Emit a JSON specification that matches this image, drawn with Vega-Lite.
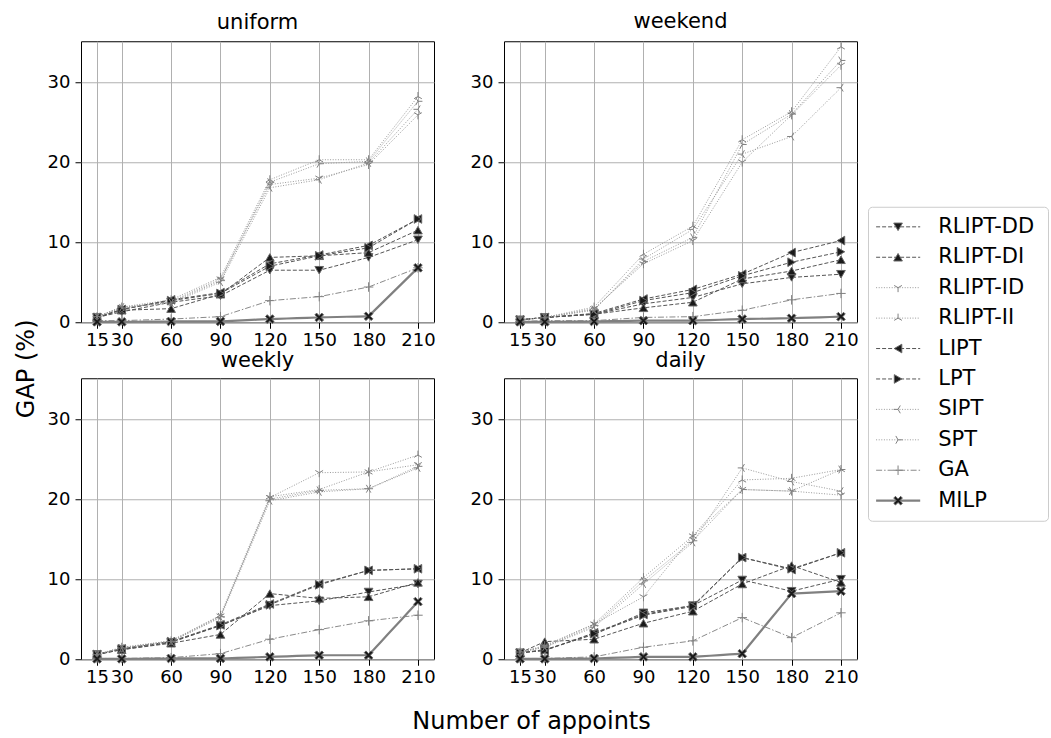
{
  "$schema": "https://vega.github.io/schema/vega-lite/v6.json",
  "background": "white",
  "padding": {"left": 14, "top": 10, "right": 5, "bottom": 0},
  "config": {
    "font": "DejaVu Sans",
    "view": {"stroke": "#000000", "strokeWidth": 1},
    "axis": {"labelFont": "DejaVu Sans", "labelFontSize": 18, "labelColor": "#000000", "tickColor": "#000000", "tickSize": 6, "tickWidth": 1, "domain": false, "grid": true, "gridColor": "#b0b0b0", "gridWidth": 1, "labelOverlap": false, "labelFlush": false, "labelPadding": 5},
    "axisX": {"labelPadding": 3},
    "title": {"font": "DejaVu Sans", "fontSize": 21, "fontWeight": "normal", "color": "#000000", "offset": 8}
  },
  "data": {"values": [
    {"panel":"uniform","series":"RLIPT-DD","n":15,"gap":0.6},{"panel":"uniform","series":"RLIPT-DD","n":30,"gap":1.3},{"panel":"uniform","series":"RLIPT-DD","n":60,"gap":2.5},{"panel":"uniform","series":"RLIPT-DD","n":90,"gap":3.3},{"panel":"uniform","series":"RLIPT-DD","n":120,"gap":6.5},{"panel":"uniform","series":"RLIPT-DD","n":150,"gap":6.5},{"panel":"uniform","series":"RLIPT-DD","n":180,"gap":8.1},{"panel":"uniform","series":"RLIPT-DD","n":210,"gap":10.3},
    {"panel":"uniform","series":"RLIPT-DI","n":15,"gap":0.6},{"panel":"uniform","series":"RLIPT-DI","n":30,"gap":1.5},{"panel":"uniform","series":"RLIPT-DI","n":60,"gap":1.7},{"panel":"uniform","series":"RLIPT-DI","n":90,"gap":3.5},{"panel":"uniform","series":"RLIPT-DI","n":120,"gap":8.1},{"panel":"uniform","series":"RLIPT-DI","n":150,"gap":8.3},{"panel":"uniform","series":"RLIPT-DI","n":180,"gap":8.7},{"panel":"uniform","series":"RLIPT-DI","n":210,"gap":11.5},
    {"panel":"uniform","series":"RLIPT-ID","n":15,"gap":0.7},{"panel":"uniform","series":"RLIPT-ID","n":30,"gap":1.8},{"panel":"uniform","series":"RLIPT-ID","n":60,"gap":2.6},{"panel":"uniform","series":"RLIPT-ID","n":90,"gap":5.4},{"panel":"uniform","series":"RLIPT-ID","n":120,"gap":17.2},{"panel":"uniform","series":"RLIPT-ID","n":150,"gap":18.0},{"panel":"uniform","series":"RLIPT-ID","n":180,"gap":19.7},{"panel":"uniform","series":"RLIPT-ID","n":210,"gap":25.9},
    {"panel":"uniform","series":"RLIPT-II","n":15,"gap":0.7},{"panel":"uniform","series":"RLIPT-II","n":30,"gap":1.9},{"panel":"uniform","series":"RLIPT-II","n":60,"gap":2.8},{"panel":"uniform","series":"RLIPT-II","n":90,"gap":5.6},{"panel":"uniform","series":"RLIPT-II","n":120,"gap":17.8},{"panel":"uniform","series":"RLIPT-II","n":150,"gap":20.3},{"panel":"uniform","series":"RLIPT-II","n":180,"gap":20.3},{"panel":"uniform","series":"RLIPT-II","n":210,"gap":28.2},
    {"panel":"uniform","series":"LIPT","n":15,"gap":0.6},{"panel":"uniform","series":"LIPT","n":30,"gap":1.6},{"panel":"uniform","series":"LIPT","n":60,"gap":2.8},{"panel":"uniform","series":"LIPT","n":90,"gap":3.7},{"panel":"uniform","series":"LIPT","n":120,"gap":7.3},{"panel":"uniform","series":"LIPT","n":150,"gap":8.4},{"panel":"uniform","series":"LIPT","n":180,"gap":9.6},{"panel":"uniform","series":"LIPT","n":210,"gap":12.9},
    {"panel":"uniform","series":"LPT","n":15,"gap":0.6},{"panel":"uniform","series":"LPT","n":30,"gap":1.6},{"panel":"uniform","series":"LPT","n":60,"gap":2.7},{"panel":"uniform","series":"LPT","n":90,"gap":3.6},{"panel":"uniform","series":"LPT","n":120,"gap":7.0},{"panel":"uniform","series":"LPT","n":150,"gap":8.3},{"panel":"uniform","series":"LPT","n":180,"gap":9.3},{"panel":"uniform","series":"LPT","n":210,"gap":12.9},
    {"panel":"uniform","series":"SIPT","n":15,"gap":0.7},{"panel":"uniform","series":"SIPT","n":30,"gap":1.9},{"panel":"uniform","series":"SIPT","n":60,"gap":2.4},{"panel":"uniform","series":"SIPT","n":90,"gap":5.0},{"panel":"uniform","series":"SIPT","n":120,"gap":16.8},{"panel":"uniform","series":"SIPT","n":150,"gap":17.8},{"panel":"uniform","series":"SIPT","n":180,"gap":19.9},{"panel":"uniform","series":"SIPT","n":210,"gap":26.6},
    {"panel":"uniform","series":"SPT","n":15,"gap":0.7},{"panel":"uniform","series":"SPT","n":30,"gap":1.8},{"panel":"uniform","series":"SPT","n":60,"gap":2.5},{"panel":"uniform","series":"SPT","n":90,"gap":5.2},{"panel":"uniform","series":"SPT","n":120,"gap":17.5},{"panel":"uniform","series":"SPT","n":150,"gap":19.8},{"panel":"uniform","series":"SPT","n":180,"gap":20.1},{"panel":"uniform","series":"SPT","n":210,"gap":27.6},
    {"panel":"uniform","series":"GA","n":15,"gap":0.2},{"panel":"uniform","series":"GA","n":30,"gap":0.2},{"panel":"uniform","series":"GA","n":60,"gap":0.4},{"panel":"uniform","series":"GA","n":90,"gap":0.7},{"panel":"uniform","series":"GA","n":120,"gap":2.7},{"panel":"uniform","series":"GA","n":150,"gap":3.2},{"panel":"uniform","series":"GA","n":180,"gap":4.4},{"panel":"uniform","series":"GA","n":210,"gap":6.8},
    {"panel":"uniform","series":"MILP","n":15,"gap":0.05},{"panel":"uniform","series":"MILP","n":30,"gap":0.05},{"panel":"uniform","series":"MILP","n":60,"gap":0.1},{"panel":"uniform","series":"MILP","n":90,"gap":0.1},{"panel":"uniform","series":"MILP","n":120,"gap":0.4},{"panel":"uniform","series":"MILP","n":150,"gap":0.6},{"panel":"uniform","series":"MILP","n":180,"gap":0.75},{"panel":"uniform","series":"MILP","n":210,"gap":6.8},

    {"panel":"weekend","series":"RLIPT-DD","n":15,"gap":0.3},{"panel":"weekend","series":"RLIPT-DD","n":30,"gap":0.6},{"panel":"weekend","series":"RLIPT-DD","n":60,"gap":1.0},{"panel":"weekend","series":"RLIPT-DD","n":90,"gap":2.3},{"panel":"weekend","series":"RLIPT-DD","n":120,"gap":3.1},{"panel":"weekend","series":"RLIPT-DD","n":150,"gap":4.8},{"panel":"weekend","series":"RLIPT-DD","n":180,"gap":5.6},{"panel":"weekend","series":"RLIPT-DD","n":210,"gap":6.0},
    {"panel":"weekend","series":"RLIPT-DI","n":15,"gap":0.3},{"panel":"weekend","series":"RLIPT-DI","n":30,"gap":0.6},{"panel":"weekend","series":"RLIPT-DI","n":60,"gap":1.0},{"panel":"weekend","series":"RLIPT-DI","n":90,"gap":1.8},{"panel":"weekend","series":"RLIPT-DI","n":120,"gap":2.5},{"panel":"weekend","series":"RLIPT-DI","n":150,"gap":5.4},{"panel":"weekend","series":"RLIPT-DI","n":180,"gap":6.4},{"panel":"weekend","series":"RLIPT-DI","n":210,"gap":7.8},
    {"panel":"weekend","series":"RLIPT-ID","n":15,"gap":0.3},{"panel":"weekend","series":"RLIPT-ID","n":30,"gap":0.6},{"panel":"weekend","series":"RLIPT-ID","n":60,"gap":1.7},{"panel":"weekend","series":"RLIPT-ID","n":90,"gap":7.3},{"panel":"weekend","series":"RLIPT-ID","n":120,"gap":10.2},{"panel":"weekend","series":"RLIPT-ID","n":150,"gap":20.0},{"panel":"weekend","series":"RLIPT-ID","n":180,"gap":25.9},{"panel":"weekend","series":"RLIPT-ID","n":210,"gap":32.1},
    {"panel":"weekend","series":"RLIPT-II","n":15,"gap":0.3},{"panel":"weekend","series":"RLIPT-II","n":30,"gap":0.6},{"panel":"weekend","series":"RLIPT-II","n":60,"gap":1.9},{"panel":"weekend","series":"RLIPT-II","n":90,"gap":8.5},{"panel":"weekend","series":"RLIPT-II","n":120,"gap":12.0},{"panel":"weekend","series":"RLIPT-II","n":150,"gap":22.8},{"panel":"weekend","series":"RLIPT-II","n":180,"gap":26.3},{"panel":"weekend","series":"RLIPT-II","n":210,"gap":34.4},
    {"panel":"weekend","series":"LIPT","n":15,"gap":0.3},{"panel":"weekend","series":"LIPT","n":30,"gap":0.6},{"panel":"weekend","series":"LIPT","n":60,"gap":1.1},{"panel":"weekend","series":"LIPT","n":90,"gap":2.9},{"panel":"weekend","series":"LIPT","n":120,"gap":4.1},{"panel":"weekend","series":"LIPT","n":150,"gap":6.0},{"panel":"weekend","series":"LIPT","n":180,"gap":8.7},{"panel":"weekend","series":"LIPT","n":210,"gap":10.2},
    {"panel":"weekend","series":"LPT","n":15,"gap":0.3},{"panel":"weekend","series":"LPT","n":30,"gap":0.6},{"panel":"weekend","series":"LPT","n":60,"gap":1.0},{"panel":"weekend","series":"LPT","n":90,"gap":2.7},{"panel":"weekend","series":"LPT","n":120,"gap":3.7},{"panel":"weekend","series":"LPT","n":150,"gap":5.8},{"panel":"weekend","series":"LPT","n":180,"gap":7.5},{"panel":"weekend","series":"LPT","n":210,"gap":8.8},
    {"panel":"weekend","series":"SIPT","n":15,"gap":0.3},{"panel":"weekend","series":"SIPT","n":30,"gap":0.6},{"panel":"weekend","series":"SIPT","n":60,"gap":1.5},{"panel":"weekend","series":"SIPT","n":90,"gap":7.9},{"panel":"weekend","series":"SIPT","n":120,"gap":11.6},{"panel":"weekend","series":"SIPT","n":150,"gap":21.0},{"panel":"weekend","series":"SIPT","n":180,"gap":23.2},{"panel":"weekend","series":"SIPT","n":210,"gap":29.3},
    {"panel":"weekend","series":"SPT","n":15,"gap":0.3},{"panel":"weekend","series":"SPT","n":30,"gap":0.6},{"panel":"weekend","series":"SPT","n":60,"gap":1.6},{"panel":"weekend","series":"SPT","n":90,"gap":7.6},{"panel":"weekend","series":"SPT","n":120,"gap":10.6},{"panel":"weekend","series":"SPT","n":150,"gap":22.2},{"panel":"weekend","series":"SPT","n":180,"gap":26.0},{"panel":"weekend","series":"SPT","n":210,"gap":32.7},
    {"panel":"weekend","series":"GA","n":15,"gap":0.1},{"panel":"weekend","series":"GA","n":30,"gap":0.2},{"panel":"weekend","series":"GA","n":60,"gap":0.2},{"panel":"weekend","series":"GA","n":90,"gap":0.6},{"panel":"weekend","series":"GA","n":120,"gap":0.7},{"panel":"weekend","series":"GA","n":150,"gap":1.5},{"panel":"weekend","series":"GA","n":180,"gap":2.8},{"panel":"weekend","series":"GA","n":210,"gap":3.6},
    {"panel":"weekend","series":"MILP","n":15,"gap":0.05},{"panel":"weekend","series":"MILP","n":30,"gap":0.05},{"panel":"weekend","series":"MILP","n":60,"gap":0.1},{"panel":"weekend","series":"MILP","n":90,"gap":0.2},{"panel":"weekend","series":"MILP","n":120,"gap":0.2},{"panel":"weekend","series":"MILP","n":150,"gap":0.4},{"panel":"weekend","series":"MILP","n":180,"gap":0.5},{"panel":"weekend","series":"MILP","n":210,"gap":0.7},

    {"panel":"weekly","series":"RLIPT-DD","n":15,"gap":0.6},{"panel":"weekly","series":"RLIPT-DD","n":30,"gap":1.2},{"panel":"weekly","series":"RLIPT-DD","n":60,"gap":2.1},{"panel":"weekly","series":"RLIPT-DD","n":90,"gap":4.2},{"panel":"weekly","series":"RLIPT-DD","n":120,"gap":6.7},{"panel":"weekly","series":"RLIPT-DD","n":150,"gap":7.3},{"panel":"weekly","series":"RLIPT-DD","n":180,"gap":8.4},{"panel":"weekly","series":"RLIPT-DD","n":210,"gap":9.4},
    {"panel":"weekly","series":"RLIPT-DI","n":15,"gap":0.6},{"panel":"weekly","series":"RLIPT-DI","n":30,"gap":1.2},{"panel":"weekly","series":"RLIPT-DI","n":60,"gap":2.0},{"panel":"weekly","series":"RLIPT-DI","n":90,"gap":3.1},{"panel":"weekly","series":"RLIPT-DI","n":120,"gap":8.2},{"panel":"weekly","series":"RLIPT-DI","n":150,"gap":7.6},{"panel":"weekly","series":"RLIPT-DI","n":180,"gap":7.8},{"panel":"weekly","series":"RLIPT-DI","n":210,"gap":9.6},
    {"panel":"weekly","series":"RLIPT-ID","n":15,"gap":0.6},{"panel":"weekly","series":"RLIPT-ID","n":30,"gap":1.4},{"panel":"weekly","series":"RLIPT-ID","n":60,"gap":2.3},{"panel":"weekly","series":"RLIPT-ID","n":90,"gap":5.4},{"panel":"weekly","series":"RLIPT-ID","n":120,"gap":20.2},{"panel":"weekly","series":"RLIPT-ID","n":150,"gap":23.3},{"panel":"weekly","series":"RLIPT-ID","n":180,"gap":23.4},{"panel":"weekly","series":"RLIPT-ID","n":210,"gap":24.3},
    {"panel":"weekly","series":"RLIPT-II","n":15,"gap":0.6},{"panel":"weekly","series":"RLIPT-II","n":30,"gap":1.5},{"panel":"weekly","series":"RLIPT-II","n":60,"gap":2.3},{"panel":"weekly","series":"RLIPT-II","n":90,"gap":5.5},{"panel":"weekly","series":"RLIPT-II","n":120,"gap":20.3},{"panel":"weekly","series":"RLIPT-II","n":150,"gap":21.2},{"panel":"weekly","series":"RLIPT-II","n":180,"gap":23.4},{"panel":"weekly","series":"RLIPT-II","n":210,"gap":25.5},
    {"panel":"weekly","series":"LIPT","n":15,"gap":0.6},{"panel":"weekly","series":"LIPT","n":30,"gap":1.3},{"panel":"weekly","series":"LIPT","n":60,"gap":2.2},{"panel":"weekly","series":"LIPT","n":90,"gap":4.3},{"panel":"weekly","series":"LIPT","n":120,"gap":6.9},{"panel":"weekly","series":"LIPT","n":150,"gap":9.4},{"panel":"weekly","series":"LIPT","n":180,"gap":11.1},{"panel":"weekly","series":"LIPT","n":210,"gap":11.3},
    {"panel":"weekly","series":"LPT","n":15,"gap":0.6},{"panel":"weekly","series":"LPT","n":30,"gap":1.3},{"panel":"weekly","series":"LPT","n":60,"gap":2.2},{"panel":"weekly","series":"LPT","n":90,"gap":4.2},{"panel":"weekly","series":"LPT","n":120,"gap":6.8},{"panel":"weekly","series":"LPT","n":150,"gap":9.3},{"panel":"weekly","series":"LPT","n":180,"gap":11.1},{"panel":"weekly","series":"LPT","n":210,"gap":11.3},
    {"panel":"weekly","series":"SIPT","n":15,"gap":0.6},{"panel":"weekly","series":"SIPT","n":30,"gap":1.4},{"panel":"weekly","series":"SIPT","n":60,"gap":2.2},{"panel":"weekly","series":"SIPT","n":90,"gap":5.2},{"panel":"weekly","series":"SIPT","n":120,"gap":19.8},{"panel":"weekly","series":"SIPT","n":150,"gap":20.9},{"panel":"weekly","series":"SIPT","n":180,"gap":21.3},{"panel":"weekly","series":"SIPT","n":210,"gap":23.9},
    {"panel":"weekly","series":"SPT","n":15,"gap":0.6},{"panel":"weekly","series":"SPT","n":30,"gap":1.4},{"panel":"weekly","series":"SPT","n":60,"gap":2.2},{"panel":"weekly","series":"SPT","n":90,"gap":5.3},{"panel":"weekly","series":"SPT","n":120,"gap":20.0},{"panel":"weekly","series":"SPT","n":150,"gap":21.1},{"panel":"weekly","series":"SPT","n":180,"gap":21.3},{"panel":"weekly","series":"SPT","n":210,"gap":24.1},
    {"panel":"weekly","series":"GA","n":15,"gap":0.1},{"panel":"weekly","series":"GA","n":30,"gap":0.1},{"panel":"weekly","series":"GA","n":60,"gap":0.2},{"panel":"weekly","series":"GA","n":90,"gap":0.7},{"panel":"weekly","series":"GA","n":120,"gap":2.5},{"panel":"weekly","series":"GA","n":150,"gap":3.7},{"panel":"weekly","series":"GA","n":180,"gap":4.8},{"panel":"weekly","series":"GA","n":210,"gap":5.5},
    {"panel":"weekly","series":"MILP","n":15,"gap":0.05},{"panel":"weekly","series":"MILP","n":30,"gap":0.05},{"panel":"weekly","series":"MILP","n":60,"gap":0.1},{"panel":"weekly","series":"MILP","n":90,"gap":0.1},{"panel":"weekly","series":"MILP","n":120,"gap":0.3},{"panel":"weekly","series":"MILP","n":150,"gap":0.5},{"panel":"weekly","series":"MILP","n":180,"gap":0.5},{"panel":"weekly","series":"MILP","n":210,"gap":7.2},

    {"panel":"daily","series":"RLIPT-DD","n":15,"gap":0.8},{"panel":"daily","series":"RLIPT-DD","n":30,"gap":1.2},{"panel":"daily","series":"RLIPT-DD","n":60,"gap":3.1},{"panel":"daily","series":"RLIPT-DD","n":90,"gap":5.8},{"panel":"daily","series":"RLIPT-DD","n":120,"gap":6.7},{"panel":"daily","series":"RLIPT-DD","n":150,"gap":9.9},{"panel":"daily","series":"RLIPT-DD","n":180,"gap":8.5},{"panel":"daily","series":"RLIPT-DD","n":210,"gap":10.0},
    {"panel":"daily","series":"RLIPT-DI","n":15,"gap":0.8},{"panel":"daily","series":"RLIPT-DI","n":30,"gap":2.2},{"panel":"daily","series":"RLIPT-DI","n":60,"gap":2.5},{"panel":"daily","series":"RLIPT-DI","n":90,"gap":4.5},{"panel":"daily","series":"RLIPT-DI","n":120,"gap":6.0},{"panel":"daily","series":"RLIPT-DI","n":150,"gap":9.4},{"panel":"daily","series":"RLIPT-DI","n":180,"gap":11.7},{"panel":"daily","series":"RLIPT-DI","n":210,"gap":9.6},
    {"panel":"daily","series":"RLIPT-ID","n":15,"gap":0.9},{"panel":"daily","series":"RLIPT-ID","n":30,"gap":1.6},{"panel":"daily","series":"RLIPT-ID","n":60,"gap":4.4},{"panel":"daily","series":"RLIPT-ID","n":90,"gap":7.8},{"panel":"daily","series":"RLIPT-ID","n":120,"gap":15.4},{"panel":"daily","series":"RLIPT-ID","n":150,"gap":21.2},{"panel":"daily","series":"RLIPT-ID","n":180,"gap":21.0},{"panel":"daily","series":"RLIPT-ID","n":210,"gap":20.5},
    {"panel":"daily","series":"RLIPT-II","n":15,"gap":0.9},{"panel":"daily","series":"RLIPT-II","n":30,"gap":1.7},{"panel":"daily","series":"RLIPT-II","n":60,"gap":4.4},{"panel":"daily","series":"RLIPT-II","n":90,"gap":10.2},{"panel":"daily","series":"RLIPT-II","n":120,"gap":15.4},{"panel":"daily","series":"RLIPT-II","n":150,"gap":22.4},{"panel":"daily","series":"RLIPT-II","n":180,"gap":22.6},{"panel":"daily","series":"RLIPT-II","n":210,"gap":23.7},
    {"panel":"daily","series":"LIPT","n":15,"gap":0.8},{"panel":"daily","series":"LIPT","n":30,"gap":1.1},{"panel":"daily","series":"LIPT","n":60,"gap":3.3},{"panel":"daily","series":"LIPT","n":90,"gap":5.6},{"panel":"daily","series":"LIPT","n":120,"gap":6.7},{"panel":"daily","series":"LIPT","n":150,"gap":12.7},{"panel":"daily","series":"LIPT","n":180,"gap":11.2},{"panel":"daily","series":"LIPT","n":210,"gap":13.3},
    {"panel":"daily","series":"LPT","n":15,"gap":0.8},{"panel":"daily","series":"LPT","n":30,"gap":1.1},{"panel":"daily","series":"LPT","n":60,"gap":3.2},{"panel":"daily","series":"LPT","n":90,"gap":5.5},{"panel":"daily","series":"LPT","n":120,"gap":6.6},{"panel":"daily","series":"LPT","n":150,"gap":12.7},{"panel":"daily","series":"LPT","n":180,"gap":11.3},{"panel":"daily","series":"LPT","n":210,"gap":13.3},
    {"panel":"daily","series":"SIPT","n":15,"gap":0.9},{"panel":"daily","series":"SIPT","n":30,"gap":1.5},{"panel":"daily","series":"SIPT","n":60,"gap":4.0},{"panel":"daily","series":"SIPT","n":90,"gap":9.4},{"panel":"daily","series":"SIPT","n":120,"gap":14.6},{"panel":"daily","series":"SIPT","n":150,"gap":23.9},{"panel":"daily","series":"SIPT","n":180,"gap":22.2},{"panel":"daily","series":"SIPT","n":210,"gap":21.0},
    {"panel":"daily","series":"SPT","n":15,"gap":0.9},{"panel":"daily","series":"SPT","n":30,"gap":1.5},{"panel":"daily","series":"SPT","n":60,"gap":4.2},{"panel":"daily","series":"SPT","n":90,"gap":9.8},{"panel":"daily","series":"SPT","n":120,"gap":14.8},{"panel":"daily","series":"SPT","n":150,"gap":21.2},{"panel":"daily","series":"SPT","n":180,"gap":21.0},{"panel":"daily","series":"SPT","n":210,"gap":23.7},
    {"panel":"daily","series":"GA","n":15,"gap":0.1},{"panel":"daily","series":"GA","n":30,"gap":0.1},{"panel":"daily","series":"GA","n":60,"gap":0.3},{"panel":"daily","series":"GA","n":90,"gap":1.5},{"panel":"daily","series":"GA","n":120,"gap":2.3},{"panel":"daily","series":"GA","n":150,"gap":5.2},{"panel":"daily","series":"GA","n":180,"gap":2.7},{"panel":"daily","series":"GA","n":210,"gap":5.8},
    {"panel":"daily","series":"MILP","n":15,"gap":0.05},{"panel":"daily","series":"MILP","n":30,"gap":0.05},{"panel":"daily","series":"MILP","n":60,"gap":0.1},{"panel":"daily","series":"MILP","n":90,"gap":0.3},{"panel":"daily","series":"MILP","n":120,"gap":0.3},{"panel":"daily","series":"MILP","n":150,"gap":0.7},{"panel":"daily","series":"MILP","n":180,"gap":8.2},{"panel":"daily","series":"MILP","n":210,"gap":8.5}
  ]},
  "title": {"text": "Number of appoints", "orient": "bottom", "anchor": "middle", "fontSize": 24, "offset": 23},
  "spacing": 8,
  "center": true,
  "hconcat": [
    {
      "columns": 2,
      "spacing": {"row": 56, "column": 70},
      "bounds": "flush",
      "title": {"text": "GAP (%)", "orient": "left", "anchor": "middle", "fontSize": 24, "offset": 8, "dx": -20},
      "concat": [
        {
          "title": "uniform", "width": 353, "height": 281,
          "transform": [{"filter": "datum.panel == 'uniform'"}],
          "encoding": {
            "x": {"field": "n", "type": "quantitative", "scale": {"domain": [5.25, 219.75], "nice": false, "zero": false}, "axis": {"values": [15, 30, 60, 90, 120, 150, 180, 210], "title": null}},
            "y": {"field": "gap", "type": "quantitative", "scale": {"domain": [0, 35.1], "nice": false, "zero": false}, "axis": {"values": [0, 10, 20, 30], "title": null}}
          },
          "layer": [
            {"mark": {"type": "line", "strokeCap": "butt"}, "encoding": {
              "color": {"field": "series", "type": "nominal", "legend": null, "scale": {"domain": ["RLIPT-DD","RLIPT-DI","RLIPT-ID","RLIPT-II","LIPT","LPT","SIPT","SPT","GA","MILP"], "range": ["#555555","#555555","#9a9a9a","#9a9a9a","#555555","#555555","#9a9a9a","#9a9a9a","#8a8a8a","#808080"]}},
              "strokeDash": {"field": "series", "type": "nominal", "legend": null, "scale": {"domain": ["RLIPT-DD","RLIPT-DI","RLIPT-ID","RLIPT-II","LIPT","LPT","SIPT","SPT","GA","MILP"], "range": [[4,2],[4,2],[1,1.6],[1,1.6],[4,2],[4,2],[1,1.6],[1,1.6],[6,2,1.5,2],[10,0]]}},
              "strokeWidth": {"condition": {"test": "datum.series == 'MILP'", "value": 2.2}, "value": 1}
            }},
            {"mark": {"type": "point", "opacity": 1, "strokeWidth": 1}, "encoding": {
              "shape": {"field": "series", "type": "nominal", "legend": null, "scale": {"domain": ["RLIPT-DD","RLIPT-DI","RLIPT-ID","RLIPT-II","LIPT","LPT","SIPT","SPT","GA","MILP"], "range": ["triangle-down","triangle-up","M0,0L0,1M0,0L-0.866,-0.5M0,0L0.866,-0.5","M0,0L0,-1M0,0L-0.866,0.5M0,0L0.866,0.5","triangle-left","triangle-right","M0,0L-1,0M0,0L0.5,-0.866M0,0L0.5,0.866","M0,0L1,0M0,0L-0.5,-0.866M0,0L-0.5,0.866","M-1,0L1,0M0,-1L0,1","M-1,-0.6L-0.6,-1L0,-0.4L0.6,-1L1,-0.6L0.4,0L1,0.6L0.6,1L0,0.4L-0.6,1L-1,0.6L-0.4,0Z"]}},
              "fill": {"field": "series", "type": "nominal", "legend": null, "scale": {"domain": ["RLIPT-DD","RLIPT-DI","RLIPT-ID","RLIPT-II","LIPT","LPT","SIPT","SPT","GA","MILP"], "range": ["#1a1a1a","#1a1a1a","transparent","transparent","#1a1a1a","#1a1a1a","transparent","transparent","transparent","#1a1a1a"]}},
              "stroke": {"field": "series", "type": "nominal", "legend": null, "scale": {"domain": ["RLIPT-DD","RLIPT-DI","RLIPT-ID","RLIPT-II","LIPT","LPT","SIPT","SPT","GA","MILP"], "range": ["#666666","#666666","#808080","#808080","#666666","#666666","#808080","#808080","#808080","#666666"]}},
              "size": {"condition": [{"test": "datum.series == 'GA'", "value": 90}, {"test": "indexof(['RLIPT-ID','RLIPT-II','SIPT','SPT'], datum.series) >= 0", "value": 80}], "value": 75}
            }}
          ]
        },
        {
          "title": "weekend", "width": 353, "height": 281,
          "transform": [{"filter": "datum.panel == 'weekend'"}],
          "encoding": {
            "x": {"field": "n", "type": "quantitative", "scale": {"domain": [5.25, 219.75], "nice": false, "zero": false}, "axis": {"values": [15, 30, 60, 90, 120, 150, 180, 210], "title": null}},
            "y": {"field": "gap", "type": "quantitative", "scale": {"domain": [0, 35.1], "nice": false, "zero": false}, "axis": {"values": [0, 10, 20, 30], "title": null}}
          },
          "layer": [
            {"mark": {"type": "line", "strokeCap": "butt"}, "encoding": {
              "color": {"field": "series", "type": "nominal", "legend": null, "scale": {"domain": ["RLIPT-DD","RLIPT-DI","RLIPT-ID","RLIPT-II","LIPT","LPT","SIPT","SPT","GA","MILP"], "range": ["#555555","#555555","#9a9a9a","#9a9a9a","#555555","#555555","#9a9a9a","#9a9a9a","#8a8a8a","#808080"]}},
              "strokeDash": {"field": "series", "type": "nominal", "legend": null, "scale": {"domain": ["RLIPT-DD","RLIPT-DI","RLIPT-ID","RLIPT-II","LIPT","LPT","SIPT","SPT","GA","MILP"], "range": [[4,2],[4,2],[1,1.6],[1,1.6],[4,2],[4,2],[1,1.6],[1,1.6],[6,2,1.5,2],[10,0]]}},
              "strokeWidth": {"condition": {"test": "datum.series == 'MILP'", "value": 2.2}, "value": 1}
            }},
            {"mark": {"type": "point", "opacity": 1, "strokeWidth": 1}, "encoding": {
              "shape": {"field": "series", "type": "nominal", "legend": null, "scale": {"domain": ["RLIPT-DD","RLIPT-DI","RLIPT-ID","RLIPT-II","LIPT","LPT","SIPT","SPT","GA","MILP"], "range": ["triangle-down","triangle-up","M0,0L0,1M0,0L-0.866,-0.5M0,0L0.866,-0.5","M0,0L0,-1M0,0L-0.866,0.5M0,0L0.866,0.5","triangle-left","triangle-right","M0,0L-1,0M0,0L0.5,-0.866M0,0L0.5,0.866","M0,0L1,0M0,0L-0.5,-0.866M0,0L-0.5,0.866","M-1,0L1,0M0,-1L0,1","M-1,-0.6L-0.6,-1L0,-0.4L0.6,-1L1,-0.6L0.4,0L1,0.6L0.6,1L0,0.4L-0.6,1L-1,0.6L-0.4,0Z"]}},
              "fill": {"field": "series", "type": "nominal", "legend": null, "scale": {"domain": ["RLIPT-DD","RLIPT-DI","RLIPT-ID","RLIPT-II","LIPT","LPT","SIPT","SPT","GA","MILP"], "range": ["#1a1a1a","#1a1a1a","transparent","transparent","#1a1a1a","#1a1a1a","transparent","transparent","transparent","#1a1a1a"]}},
              "stroke": {"field": "series", "type": "nominal", "legend": null, "scale": {"domain": ["RLIPT-DD","RLIPT-DI","RLIPT-ID","RLIPT-II","LIPT","LPT","SIPT","SPT","GA","MILP"], "range": ["#666666","#666666","#808080","#808080","#666666","#666666","#808080","#808080","#808080","#666666"]}},
              "size": {"condition": [{"test": "datum.series == 'GA'", "value": 90}, {"test": "indexof(['RLIPT-ID','RLIPT-II','SIPT','SPT'], datum.series) >= 0", "value": 80}], "value": 75}
            }}
          ]
        },
        {
          "title": {"text": "weekly", "offset": 7}, "width": 353, "height": 281,
          "transform": [{"filter": "datum.panel == 'weekly'"}],
          "encoding": {
            "x": {"field": "n", "type": "quantitative", "scale": {"domain": [5.25, 219.75], "nice": false, "zero": false}, "axis": {"values": [15, 30, 60, 90, 120, 150, 180, 210], "title": null}},
            "y": {"field": "gap", "type": "quantitative", "scale": {"domain": [0, 35.1], "nice": false, "zero": false}, "axis": {"values": [0, 10, 20, 30], "title": null}}
          },
          "layer": [
            {"mark": {"type": "line", "strokeCap": "butt"}, "encoding": {
              "color": {"field": "series", "type": "nominal", "legend": null, "scale": {"domain": ["RLIPT-DD","RLIPT-DI","RLIPT-ID","RLIPT-II","LIPT","LPT","SIPT","SPT","GA","MILP"], "range": ["#555555","#555555","#9a9a9a","#9a9a9a","#555555","#555555","#9a9a9a","#9a9a9a","#8a8a8a","#808080"]}},
              "strokeDash": {"field": "series", "type": "nominal", "legend": null, "scale": {"domain": ["RLIPT-DD","RLIPT-DI","RLIPT-ID","RLIPT-II","LIPT","LPT","SIPT","SPT","GA","MILP"], "range": [[4,2],[4,2],[1,1.6],[1,1.6],[4,2],[4,2],[1,1.6],[1,1.6],[6,2,1.5,2],[10,0]]}},
              "strokeWidth": {"condition": {"test": "datum.series == 'MILP'", "value": 2.2}, "value": 1}
            }},
            {"mark": {"type": "point", "opacity": 1, "strokeWidth": 1}, "encoding": {
              "shape": {"field": "series", "type": "nominal", "legend": null, "scale": {"domain": ["RLIPT-DD","RLIPT-DI","RLIPT-ID","RLIPT-II","LIPT","LPT","SIPT","SPT","GA","MILP"], "range": ["triangle-down","triangle-up","M0,0L0,1M0,0L-0.866,-0.5M0,0L0.866,-0.5","M0,0L0,-1M0,0L-0.866,0.5M0,0L0.866,0.5","triangle-left","triangle-right","M0,0L-1,0M0,0L0.5,-0.866M0,0L0.5,0.866","M0,0L1,0M0,0L-0.5,-0.866M0,0L-0.5,0.866","M-1,0L1,0M0,-1L0,1","M-1,-0.6L-0.6,-1L0,-0.4L0.6,-1L1,-0.6L0.4,0L1,0.6L0.6,1L0,0.4L-0.6,1L-1,0.6L-0.4,0Z"]}},
              "fill": {"field": "series", "type": "nominal", "legend": null, "scale": {"domain": ["RLIPT-DD","RLIPT-DI","RLIPT-ID","RLIPT-II","LIPT","LPT","SIPT","SPT","GA","MILP"], "range": ["#1a1a1a","#1a1a1a","transparent","transparent","#1a1a1a","#1a1a1a","transparent","transparent","transparent","#1a1a1a"]}},
              "stroke": {"field": "series", "type": "nominal", "legend": null, "scale": {"domain": ["RLIPT-DD","RLIPT-DI","RLIPT-ID","RLIPT-II","LIPT","LPT","SIPT","SPT","GA","MILP"], "range": ["#666666","#666666","#808080","#808080","#666666","#666666","#808080","#808080","#808080","#666666"]}},
              "size": {"condition": [{"test": "datum.series == 'GA'", "value": 90}, {"test": "indexof(['RLIPT-ID','RLIPT-II','SIPT','SPT'], datum.series) >= 0", "value": 80}], "value": 75}
            }}
          ]
        },
        {
          "title": {"text": "daily", "offset": 7}, "width": 353, "height": 281,
          "transform": [{"filter": "datum.panel == 'daily'"}],
          "encoding": {
            "x": {"field": "n", "type": "quantitative", "scale": {"domain": [5.25, 219.75], "nice": false, "zero": false}, "axis": {"values": [15, 30, 60, 90, 120, 150, 180, 210], "title": null}},
            "y": {"field": "gap", "type": "quantitative", "scale": {"domain": [0, 35.1], "nice": false, "zero": false}, "axis": {"values": [0, 10, 20, 30], "title": null}}
          },
          "layer": [
            {"mark": {"type": "line", "strokeCap": "butt"}, "encoding": {
              "color": {"field": "series", "type": "nominal", "legend": null, "scale": {"domain": ["RLIPT-DD","RLIPT-DI","RLIPT-ID","RLIPT-II","LIPT","LPT","SIPT","SPT","GA","MILP"], "range": ["#555555","#555555","#9a9a9a","#9a9a9a","#555555","#555555","#9a9a9a","#9a9a9a","#8a8a8a","#808080"]}},
              "strokeDash": {"field": "series", "type": "nominal", "legend": null, "scale": {"domain": ["RLIPT-DD","RLIPT-DI","RLIPT-ID","RLIPT-II","LIPT","LPT","SIPT","SPT","GA","MILP"], "range": [[4,2],[4,2],[1,1.6],[1,1.6],[4,2],[4,2],[1,1.6],[1,1.6],[6,2,1.5,2],[10,0]]}},
              "strokeWidth": {"condition": {"test": "datum.series == 'MILP'", "value": 2.2}, "value": 1}
            }},
            {"mark": {"type": "point", "opacity": 1, "strokeWidth": 1}, "encoding": {
              "shape": {"field": "series", "type": "nominal", "legend": null, "scale": {"domain": ["RLIPT-DD","RLIPT-DI","RLIPT-ID","RLIPT-II","LIPT","LPT","SIPT","SPT","GA","MILP"], "range": ["triangle-down","triangle-up","M0,0L0,1M0,0L-0.866,-0.5M0,0L0.866,-0.5","M0,0L0,-1M0,0L-0.866,0.5M0,0L0.866,0.5","triangle-left","triangle-right","M0,0L-1,0M0,0L0.5,-0.866M0,0L0.5,0.866","M0,0L1,0M0,0L-0.5,-0.866M0,0L-0.5,0.866","M-1,0L1,0M0,-1L0,1","M-1,-0.6L-0.6,-1L0,-0.4L0.6,-1L1,-0.6L0.4,0L1,0.6L0.6,1L0,0.4L-0.6,1L-1,0.6L-0.4,0Z"]}},
              "fill": {"field": "series", "type": "nominal", "legend": null, "scale": {"domain": ["RLIPT-DD","RLIPT-DI","RLIPT-ID","RLIPT-II","LIPT","LPT","SIPT","SPT","GA","MILP"], "range": ["#1a1a1a","#1a1a1a","transparent","transparent","#1a1a1a","#1a1a1a","transparent","transparent","transparent","#1a1a1a"]}},
              "stroke": {"field": "series", "type": "nominal", "legend": null, "scale": {"domain": ["RLIPT-DD","RLIPT-DI","RLIPT-ID","RLIPT-II","LIPT","LPT","SIPT","SPT","GA","MILP"], "range": ["#666666","#666666","#808080","#808080","#666666","#666666","#808080","#808080","#808080","#666666"]}},
              "size": {"condition": [{"test": "datum.series == 'GA'", "value": 90}, {"test": "indexof(['RLIPT-ID','RLIPT-II','SIPT','SPT'], datum.series) >= 0", "value": 80}], "value": 75}
            }}
          ]
        }
      ]
    },
    {
      "width": 180, "height": 314,
      "view": {"stroke": "#cccccc", "strokeWidth": 1, "cornerRadius": 4},
      "transform": [{"filter": "datum.panel == 'uniform' && datum.n == 15"}],
      "encoding": {
        "y": {"field": "series", "type": "nominal", "sort": ["RLIPT-DD","RLIPT-DI","RLIPT-ID","RLIPT-II","LIPT","LPT","SIPT","SPT","GA","MILP"], "scale": {"type": "point", "padding": 0.66}, "axis": null}
      },
      "layer": [
        {"mark": {"type": "rule", "strokeCap": "butt"}, "encoding": {
          "x": {"datum": 0.045, "type": "quantitative", "scale": {"domain": [0, 1], "nice": false, "zero": false}, "axis": null},
          "x2": {"datum": 0.29},
          "color": {"field": "series", "type": "nominal", "legend": null, "scale": {"domain": ["RLIPT-DD","RLIPT-DI","RLIPT-ID","RLIPT-II","LIPT","LPT","SIPT","SPT","GA","MILP"], "range": ["#555555","#555555","#9a9a9a","#9a9a9a","#555555","#555555","#9a9a9a","#9a9a9a","#8a8a8a","#808080"]}},
          "strokeDash": {"field": "series", "type": "nominal", "legend": null, "scale": {"domain": ["RLIPT-DD","RLIPT-DI","RLIPT-ID","RLIPT-II","LIPT","LPT","SIPT","SPT","GA","MILP"], "range": [[4,2],[4,2],[1,1.6],[1,1.6],[4,2],[4,2],[1,1.6],[1,1.6],[6,2,1.5,2],[10,0]]}},
          "strokeWidth": {"condition": {"test": "datum.series == 'MILP'", "value": 2.2}, "value": 1}
        }},
        {"mark": {"type": "point", "opacity": 1, "strokeWidth": 1}, "encoding": {
          "x": {"datum": 0.167, "type": "quantitative"},
          "shape": {"field": "series", "type": "nominal", "legend": null, "scale": {"domain": ["RLIPT-DD","RLIPT-DI","RLIPT-ID","RLIPT-II","LIPT","LPT","SIPT","SPT","GA","MILP"], "range": ["triangle-down","triangle-up","M0,0L0,1M0,0L-0.866,-0.5M0,0L0.866,-0.5","M0,0L0,-1M0,0L-0.866,0.5M0,0L0.866,0.5","triangle-left","triangle-right","M0,0L-1,0M0,0L0.5,-0.866M0,0L0.5,0.866","M0,0L1,0M0,0L-0.5,-0.866M0,0L-0.5,0.866","M-1,0L1,0M0,-1L0,1","M-1,-0.6L-0.6,-1L0,-0.4L0.6,-1L1,-0.6L0.4,0L1,0.6L0.6,1L0,0.4L-0.6,1L-1,0.6L-0.4,0Z"]}},
          "fill": {"field": "series", "type": "nominal", "legend": null, "scale": {"domain": ["RLIPT-DD","RLIPT-DI","RLIPT-ID","RLIPT-II","LIPT","LPT","SIPT","SPT","GA","MILP"], "range": ["#1a1a1a","#1a1a1a","transparent","transparent","#1a1a1a","#1a1a1a","transparent","transparent","transparent","#1a1a1a"]}},
          "stroke": {"field": "series", "type": "nominal", "legend": null, "scale": {"domain": ["RLIPT-DD","RLIPT-DI","RLIPT-ID","RLIPT-II","LIPT","LPT","SIPT","SPT","GA","MILP"], "range": ["#666666","#666666","#808080","#808080","#666666","#666666","#808080","#808080","#808080","#666666"]}},
          "size": {"condition": [{"test": "datum.series == 'GA'", "value": 90}, {"test": "indexof(['RLIPT-ID','RLIPT-II','SIPT','SPT'], datum.series) >= 0", "value": 80}], "value": 75}
        }},
        {"mark": {"type": "text", "align": "left", "baseline": "middle", "fontSize": 21, "font": "DejaVu Sans", "color": "#000000"}, "encoding": {
          "x": {"datum": 0.39, "type": "quantitative"},
          "text": {"field": "series", "type": "nominal"}
        }}
      ]
    }
  ]
}
